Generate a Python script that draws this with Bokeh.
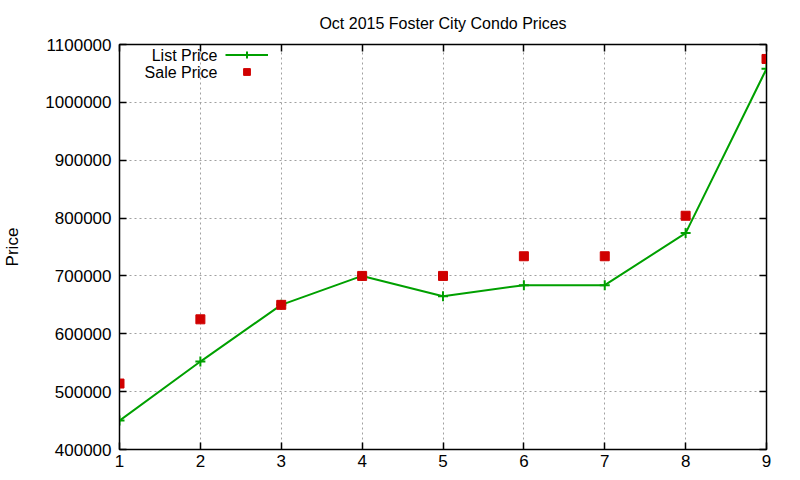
from bokeh.plotting import figure
from bokeh.models import LinearAxis, Range1d, FixedTicker, Legend, LegendItem, NumeralTickFormatter, Label
from bokeh.embed import file_html
from bokeh.resources import INLINE

months = [1, 2, 3, 4, 5, 6, 7, 8, 9]
list_price = [450000, 552000, 650000, 700000, 665000, 684000, 684000, 774000, 1058000]
sale_price = [514000, 625000, 650000, 700000, 700000, 734000, 734000, 804000, 1075000]
y_ticks = [400000, 500000, 600000, 700000, 800000, 900000, 1000000, 1100000]
x_ticks = [1, 2, 3, 4, 5, 6, 7, 8, 9]
series_names = ["List Price", "Sale Price"]

FONT = "Liberation Sans"
GREEN = "#00a000"
RED = "#d00000"

p = figure(frame_width=647, frame_height=405, output_backend="svg", toolbar_location=None,
           x_range=Range1d(1, 9), y_range=Range1d(400000, 1100000),
           min_border_left=111, min_border_right=10, min_border_top=44, min_border_bottom=10)

p.title.text = "Oct 2015 Foster City Condo Prices"
p.title.align = "center"
p.title.text_font = FONT
p.title.text_font_size = "16px"
p.title.text_font_style = "normal"
p.title.text_color = "black"
p.title.standoff = 25

p.outline_line_color = "black"
p.outline_line_width = 1.5
p.background_fill_color = "white"
p.border_fill_color = "white"

for ax in [p.xaxis[0], p.yaxis[0]]:
    ax.major_label_text_font = FONT
    ax.major_label_text_font_size = "17px"
    ax.major_label_text_color = "black"
    ax.major_tick_in = 7
    ax.major_tick_out = 0
    ax.minor_tick_in = 0
    ax.minor_tick_out = 0
    ax.axis_line_color = "black"
    ax.major_tick_line_color = "black"
    ax.major_tick_line_width = 1.5

p.xaxis.ticker = FixedTicker(ticks=x_ticks)
p.yaxis.ticker = FixedTicker(ticks=y_ticks)
p.yaxis.formatter = NumeralTickFormatter(format="0")
p.yaxis.major_label_standoff = 8
p.xaxis.major_label_standoff = 5
p.yaxis.axis_label = "Price"
p.yaxis.axis_label_text_font = FONT
p.yaxis.axis_label_text_font_size = "17px"
p.yaxis.axis_label_text_font_style = "normal"
p.yaxis.axis_label_text_color = "black"
p.yaxis.axis_label_standoff = 20

# mirrored ticks (no labels drawn)
right = LinearAxis(ticker=FixedTicker(ticks=y_ticks), major_label_text_font_size="1px",
                   major_label_text_color=None,
                   major_tick_in=7, major_tick_out=0, minor_tick_in=0, minor_tick_out=0,
                   axis_line_color="black", major_tick_line_width=1.5, major_label_standoff=0)
top = LinearAxis(ticker=FixedTicker(ticks=x_ticks), major_label_text_font_size="1px",
                 major_label_text_color=None,
                 major_tick_in=7, major_tick_out=0, minor_tick_in=0, minor_tick_out=0,
                 axis_line_color="black", major_tick_line_width=1.5, major_label_standoff=0)
p.add_layout(right, "right")
p.add_layout(top, "above")

p.xgrid.ticker = FixedTicker(ticks=x_ticks)
p.ygrid.ticker = FixedTicker(ticks=y_ticks)
p.grid.grid_line_color = "#a0a0a0"
p.grid.grid_line_dash = "2 3"
p.grid.grid_line_width = 1

ln = p.line(months, list_price, line_color=GREEN, line_width=2)
cr = p.scatter(months, list_price, marker="cross", size=10, line_color=GREEN, line_width=2)
sq = p.scatter(months, sale_price, marker="square", size=9, fill_color=RED, line_color=RED)

# gnuplot-style key: right-aligned text, sample to the right
legend = Legend(items=[LegendItem(label=" ", renderers=[ln, cr]),
                       LegendItem(label=" ", renderers=[sq])],
                location=(106, 369), background_fill_alpha=0, border_line_color=None,
                label_text_font_size="1px", label_text_color=None,
                label_width=0, label_standoff=0,
                glyph_width=43, glyph_height=17, label_height=17,
                spacing=0, padding=0, margin=0)
p.add_layout(legend, "center")

for name, yy in zip(series_names, [394, 377]):
    p.add_layout(Label(x=98, y=yy, x_units="screen", y_units="screen", text=name,
                       text_align="right", text_baseline="middle",
                       text_font=FONT, text_font_size="16px", text_color="black"))

open("out.html", "w").write(file_html(p, INLINE))
